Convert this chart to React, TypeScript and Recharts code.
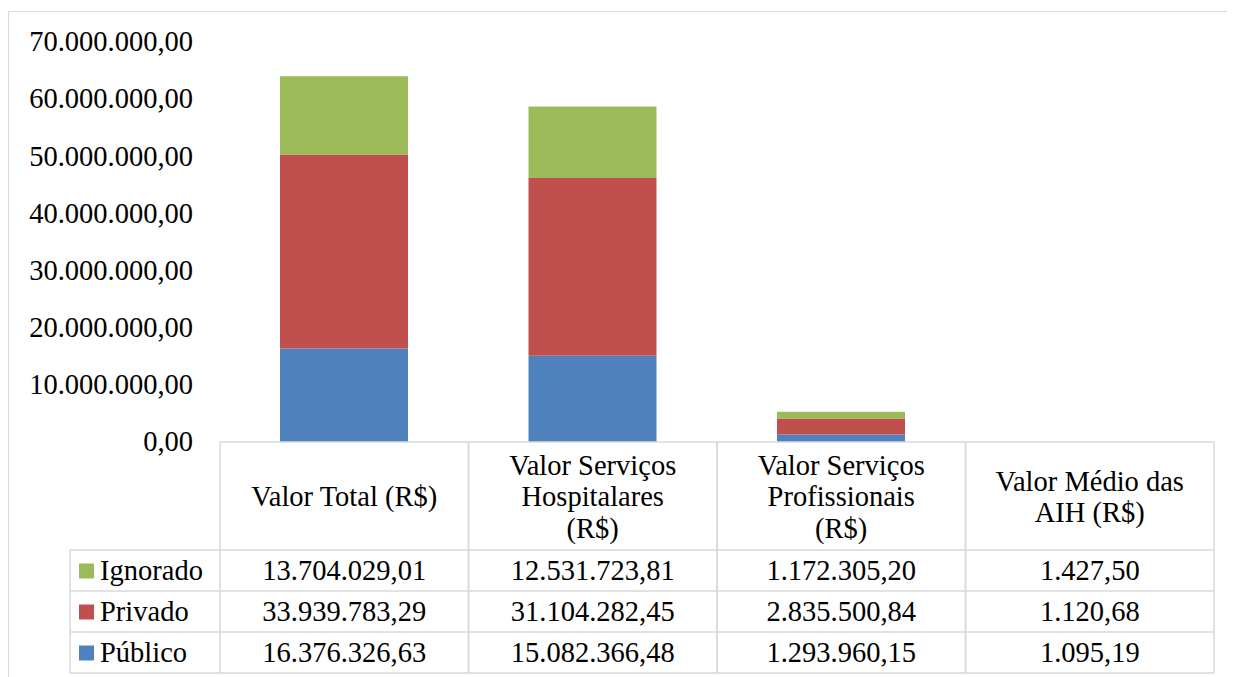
import React from 'react';
import { BarChart, Bar, XAxis, YAxis } from 'recharts';

const categories = [
  'Valor Total (R$)',
  'Valor Serviços Hospitalares (R$)',
  'Valor Serviços Profissionais (R$)',
  'Valor Médio das AIH (R$)',
];
const headerLines = [
  ['Valor Total (R$)'],
  ['Valor Serviços', 'Hospitalares', '(R$)'],
  ['Valor Serviços', 'Profissionais', '(R$)'],
  ['Valor Médio das', 'AIH (R$)'],
];
const publico = [16376326.63, 15082366.48, 1293960.15, 1095.19];
const privado = [33939783.29, 31104282.45, 2835500.84, 1120.68];
const ignorado = [13704029.01, 12531723.81, 1172305.2, 1427.5];
const yTicks = [0, 10000000, 20000000, 30000000, 40000000, 50000000, 60000000, 70000000];

const series = [
  { key: 'ignorado', name: 'Ignorado', color: '#9BBB59', values: ignorado },
  { key: 'privado', name: 'Privado', color: '#C0504D', values: privado },
  { key: 'publico', name: 'Público', color: '#4F81BD', values: publico },
];

const data = categories.map((c, i) => ({
  category: c,
  publico: publico[i],
  privado: privado[i],
  ignorado: ignorado[i],
}));

const FONT = "'Liberation Serif', 'Times New Roman', serif";
const FS = 28.5;
const GRID = '#D9D9D9';

// 1.234.567,89
function fmt(v: number) {
  const [int, dec] = v.toFixed(2).split('.');
  return int.replace(/\B(?=(\d{3})+(?!\d))/g, '.') + ',' + dec;
}

const HALF = 124.25; // half of a category band
const LEGEND_W = 150;
const HEADER_H = 108;
const ROW_H = 41;

// html text box inside the svg, so the serif face is used
function Box({ x, y, w, h, align = 'center', pad = 0, children }: any) {
  const justify = align === 'left' ? 'flex-start' : align === 'right' ? 'flex-end' : 'center';
  return (
    <foreignObject x={x} y={y} width={w} height={h} style={{ overflow: 'visible' }}>
      <div
        style={{
          width: w,
          height: h,
          display: 'flex',
          alignItems: 'center',
          justifyContent: justify,
          textAlign: align,
          paddingLeft: pad,
          boxSizing: 'border-box',
          fontFamily: FONT,
          fontSize: FS,
          lineHeight: '31.5px',
          color: '#000',
          whiteSpace: 'nowrap',
        }}
      >
        {children}
      </div>
    </foreignObject>
  );
}

function TableTick(props: any) {
  const { x, y, index } = props;
  const left = x - HALF;
  const right = x + HALF;
  const lines = headerLines[index];
  const bottom = y + HEADER_H + ROW_H * series.length;
  return (
    <g>
      <line x1={left} y1={y} x2={left} y2={bottom} stroke={GRID} strokeWidth={1.5} />
      <line x1={right} y1={y} x2={right} y2={bottom} stroke={GRID} strokeWidth={1.5} />
      <Box x={left} y={y + 1} w={HALF * 2} h={HEADER_H}>
        <div>
          {lines.map((l, k) => (
            <div key={k}>{l}</div>
          ))}
        </div>
      </Box>
      {series.map((s, r) => {
        const top = y + HEADER_H + r * ROW_H;
        return (
          <g key={s.key}>
            <line x1={left} y1={top} x2={right} y2={top} stroke={GRID} strokeWidth={1.5} />
            <Box x={left} y={top} w={HALF * 2} h={ROW_H}>{fmt(s.values[index])}</Box>
          </g>
        );
      })}
      <line x1={left} y1={bottom} x2={right} y2={bottom} stroke={GRID} strokeWidth={1.5} />
      {index === 0 && (
        <g>
          <line x1={left - LEGEND_W} y1={y + HEADER_H} x2={left - LEGEND_W} y2={bottom} stroke={GRID} strokeWidth={1.5} />
          {series.map((s, r) => {
            const top = y + HEADER_H + r * ROW_H;
            const lx = left - LEGEND_W;
            return (
              <g key={s.key}>
                <line x1={lx} y1={top} x2={left} y2={top} stroke={GRID} strokeWidth={1.5} />
                <rect x={lx + 9} y={top + ROW_H / 2 - 7} width={15} height={15} fill={s.color} />
                <Box x={lx} y={top} w={LEGEND_W} h={ROW_H} align="left" pad={30}>{s.name}</Box>
              </g>
            );
          })}
          <line x1={left - LEGEND_W} y1={bottom} x2={left} y2={bottom} stroke={GRID} strokeWidth={1.5} />
        </g>
      )}
    </g>
  );
}

function YTick(props: any) {
  const { x, y, payload } = props;
  return <Box x={x - 200} y={y - 20} w={200} h={40} align="right">{fmt(payload.value)}</Box>;
}

export default function App() {
  return (
    <div style={{ position: 'relative', width: 1227, height: 669, overflow: 'hidden', background: '#fff', fontFamily: FONT }}>
      <div style={{ position: 'absolute', left: 0, top: 3, width: 1260, height: 720, border: `1.5px solid ${GRID}`, boxSizing: 'border-box' }} />
      <div style={{ position: 'absolute', left: 0, top: 0 }}>
        <BarChart width={1227} height={669} data={data} margin={{ top: 34, right: 21, bottom: 4, left: 0 }}>
          <YAxis
            width={212}
            domain={[0, 70000000]}
            ticks={yTicks}
            interval={0}
            axisLine={false}
            tickLine={false}
            tickSize={0}
            tickMargin={27}
            tick={<YTick />}
          />
          <XAxis
            dataKey="category"
            height={231}
            interval={0}
            tickLine={false}
            tickSize={0}
            tickMargin={0}
            axisLine={{ stroke: GRID, strokeWidth: 1.5 }}
            tick={<TableTick />}
          />
          <Bar dataKey="publico" name="Público" stackId="a" fill="#4F81BD" barSize={128} isAnimationActive={false} />
          <Bar dataKey="privado" name="Privado" stackId="a" fill="#C0504D" barSize={128} isAnimationActive={false} />
          <Bar dataKey="ignorado" name="Ignorado" stackId="a" fill="#9BBB59" barSize={128} isAnimationActive={false} />
        </BarChart>
      </div>
    </div>
  );
}
